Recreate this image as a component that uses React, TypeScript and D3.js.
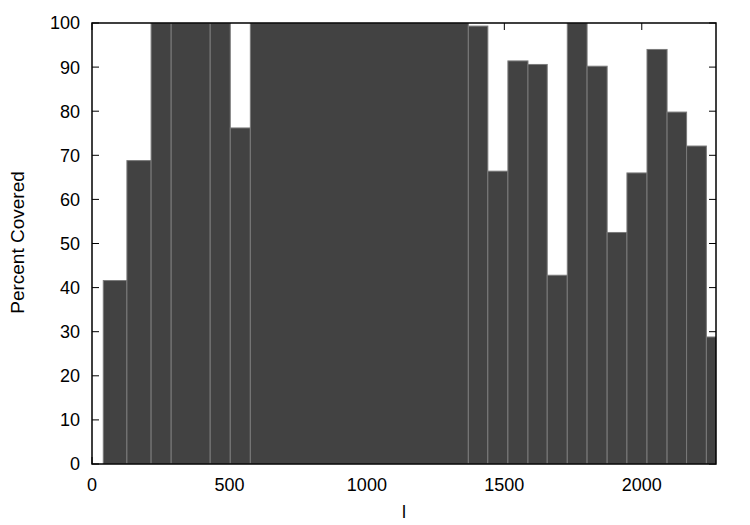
import * as d3 from 'd3';
import { useEffect, useRef } from 'react';

// bin boundaries along l (one more than the values)
const binEdges = [41, 127, 215, 288, 430, 503, 576, 1369, 1440, 1513, 1586, 1656, 1729, 1801, 1874, 1946, 2019, 2092, 2163, 2235, 2307];
const percentCovered = [41.6, 68.8, 100, 100, 100, 76.2, 100, 99.3, 66.4, 91.4, 90.6, 42.8, 100, 90.2, 52.5, 66, 94, 79.8, 72.1, 28.8];
const xTicks = [0, 500, 1000, 1500, 2000];
const yTicks = [0, 10, 20, 30, 40, 50, 60, 70, 80, 90, 100];

export default function App() {
  const ref = useRef<SVGSVGElement | null>(null);

  useEffect(() => {
    const width = 750;
    const height = 525;
    const left = 92;
    const right = 716;
    const top = 23;
    const bottom = 464;
    const font = '"Liberation Sans", Arial, Helvetica, sans-serif';

    const svg = d3.select(ref.current);
    svg.selectAll('*').remove();
    svg.attr('width', width).attr('height', height);

    const x = d3.scaleLinear().domain([0, 2270]).range([left, right]);
    const y = d3.scaleLinear().domain([0, 100]).range([bottom, top]);

    const bins = percentCovered.map((v, i) => ({ x0: binEdges[i], x1: binEdges[i + 1], v }));

    svg.append('defs').append('clipPath').attr('id', 'plot-clip')
      .append('rect')
      .attr('x', left).attr('y', top)
      .attr('width', right - left).attr('height', bottom - top);

    /* ---------- TICKS (inward, all four sides) ---------- */
    const tickLen = 7;
    const ticks = svg.append('g').attr('stroke', '#000').attr('stroke-width', 1);
    yTicks.forEach(t => {
      ticks.append('line').attr('x1', left).attr('x2', left + tickLen).attr('y1', y(t)).attr('y2', y(t));
      ticks.append('line').attr('x1', right).attr('x2', right - tickLen).attr('y1', y(t)).attr('y2', y(t));
    });
    xTicks.forEach(t => {
      ticks.append('line').attr('x1', x(t)).attr('x2', x(t)).attr('y1', bottom).attr('y2', bottom - tickLen);
      ticks.append('line').attr('x1', x(t)).attr('x2', x(t)).attr('y1', top).attr('y2', top + tickLen);
    });

    /* ---------- BARS ---------- */
    svg.append('g')
      .attr('clip-path', 'url(#plot-clip)')
      .selectAll('rect')
      .data(bins)
      .enter()
      .append('rect')
      .attr('x', d => x(d.x0))
      .attr('width', d => x(d.x1) - x(d.x0))
      .attr('y', d => y(d.v))
      .attr('height', d => y(0) - y(d.v))
      .attr('fill', '#424242')
      .attr('stroke', '#7a7a7a')
      .attr('stroke-width', 1);

    /* ---------- FRAME ---------- */
    svg.append('rect')
      .attr('x', left).attr('y', top)
      .attr('width', right - left).attr('height', bottom - top)
      .attr('fill', 'none')
      .attr('stroke', '#000')
      .attr('stroke-width', 1.5);

    /* ---------- LABELS ---------- */
    svg.append('g')
      .selectAll('text')
      .data(yTicks)
      .enter()
      .append('text')
      .attr('x', left - 12)
      .attr('y', d => y(d))
      .attr('dy', '0.36em')
      .attr('text-anchor', 'end')
      .style('font-family', font)
      .style('font-size', '18px')
      .text(d => d);

    svg.append('g')
      .selectAll('text')
      .data(xTicks)
      .enter()
      .append('text')
      .attr('x', d => x(d))
      .attr('y', 491)
      .attr('text-anchor', 'middle')
      .style('font-family', font)
      .style('font-size', '18px')
      .text(d => d);

    svg.append('text')
      .attr('x', (left + right) / 2)
      .attr('y', 518)
      .attr('text-anchor', 'middle')
      .style('font-family', font)
      .style('font-size', '18px')
      .text('l');

    svg.append('text')
      .attr('transform', `translate(24,${(top + bottom) / 2 - 1}) rotate(-90)`)
      .attr('text-anchor', 'middle')
      .style('font-family', font)
      .style('font-size', '19px')
      .text('Percent Covered');
  }, []);

  return (
    <div>
      <svg ref={ref} style={{ position: 'absolute', left: 0, top: 0, display: 'block' }} />
    </div>
  );
}
